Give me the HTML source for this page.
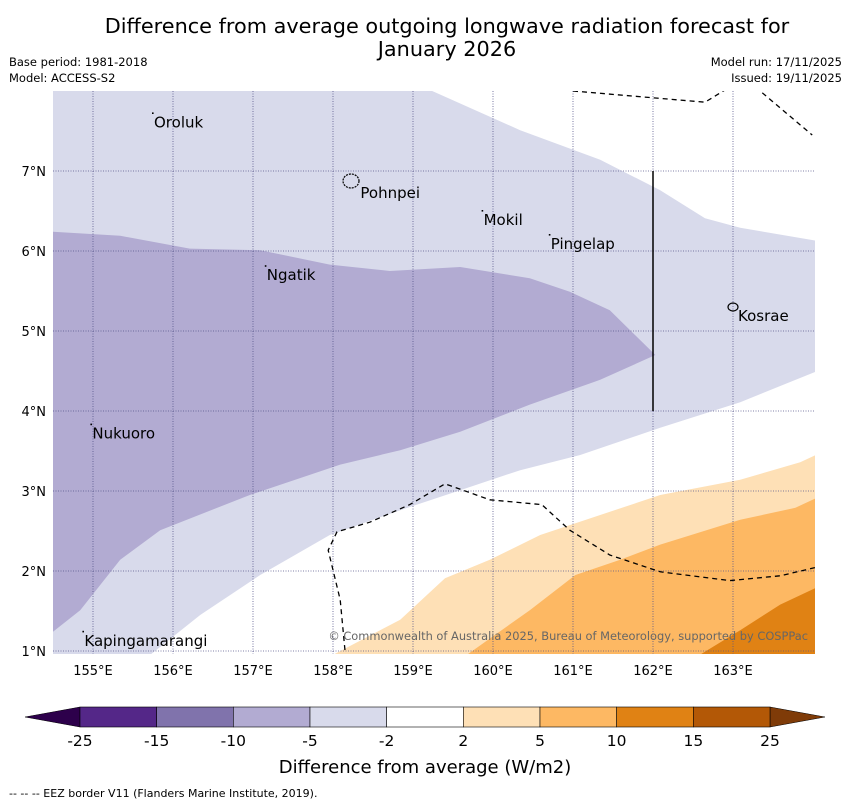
<!DOCTYPE html>
<html><head><meta charset="utf-8"><style>
body{margin:0;background:#fff;font-family:"Liberation Sans","DejaVu Sans",sans-serif}
svg text{font-family:"DejaVu Sans","Liberation Sans",sans-serif}
</style></head><body>
<svg id="c" width="850" height="804" xmlns="http://www.w3.org/2000/svg">
<text x="447" y="33" font-size="20.8" text-anchor="middle">Difference from average outgoing longwave radiation forecast for</text>
<text x="447" y="56" font-size="20.8" text-anchor="middle">January 2026</text>
<text x="9" y="66" font-size="11.5">Base period: 1981-2018</text>
<text x="9" y="82" font-size="11.5">Model: ACCESS-S2</text>
<text x="842" y="66" font-size="11.5" text-anchor="end">Model run: 17/11/2025</text>
<text x="842" y="82" font-size="11.5" text-anchor="end">Issued: 19/11/2025</text>
<defs><clipPath id="mc"><rect x="53" y="91" width="762" height="563"/></clipPath></defs>
<g id="map" clip-path="url(#mc)"></g>
<g id="over"></g>
<g id="cb"></g>
<text x="425" y="773" font-size="18" text-anchor="middle">Difference from average (W/m2)</text>
<text x="9" y="797" font-size="11">--  --  -- EEZ border V11 (Flanders Marine Institute, 2019).</text>
</svg>
<script>
const lonTicks=[155,156,157,158,159,160,161,162,163];
const latTicks=[1,2,3,4,5,6,7];
const regionLight=[[154.5,8],[159.24,8],[160.34,7.51],[161.34,7.14],[162.09,6.76],[162.65,6.41],[163.09,6.29],[164.03,6.13],[164.03,4.49],[163.09,4.11],[162.09,3.79],[161.09,3.45],[160.34,3.26],[159.59,3.01],[158.84,2.76],[157.96,2.45],[157.09,1.95],[156.34,1.45],[155.65,0.9],[154.5,0.9]];
const regionMed=[[154.5,6.24],[155.34,6.19],[156.21,6.03],[157.09,6.01],[157.96,5.83],[158.71,5.75],[159.59,5.8],[160.46,5.66],[160.96,5.49],[161.46,5.26],[162.03,4.7],[161.34,4.39],[160.46,4.08],[159.59,3.74],[158.84,3.51],[158.09,3.33],[156.96,2.95],[155.84,2.51],[155.34,2.14],[154.84,1.51],[154.5,1.24]];
const regionOr1=[[157.9,0.9],[158.84,1.39],[159.4,1.91],[159.96,2.14],[160.59,2.45],[161.34,2.7],[162.09,2.95],[163.09,3.14],[163.84,3.36],[164.1,3.48],[164.1,0.9]];
const regionOr2=[[159.6,0.9],[160.46,1.51],[161.03,1.95],[161.59,2.14],[162.09,2.33],[163.09,2.64],[163.78,2.79],[164.1,2.94],[164.1,0.9]];
const regionOr3=[[162.5,0.9],[163.09,1.26],[163.59,1.58],[164.1,1.82],[164.1,0.9]];
const eezA=[[158.16,0.9],[158.09,1.64],[157.94,2.26],[158.05,2.49],[158.46,2.61],[158.96,2.83],[159.4,3.09],[159.96,2.89],[160.61,2.83],[160.96,2.51],[161.46,2.2],[162.09,1.99],[162.96,1.88],[163.59,1.94],[164.1,2.06]];
const eezB=[[161,8],[162.65,7.86],[162.96,8.05]];
const eezC=[[163.28,8.05],[163.99,7.45]];
const places=["Oroluk","Pohnpei","Mokil","Pingelap","Ngatik","Kosrae","Nukuoro","Kapingamarangi"];
const placeLon=[155.75,158.33,159.87,160.71,157.16,163.05,154.98,154.88];
const placeLat=[7.72,6.84,6.5,6.2,5.81,5.3,3.83,1.24];
const cbBounds=["-25","-15","-10","-5","-2","2","5","10","15","25"];
const cbColors=["#542788","#8073ac","#b2abd2","#d8daeb","#ffffff","#fee0b6","#fdb863","#e08214","#b35806"];
const X=lon=>53+(lon-154.5)*80, Y=lat=>91+(8-lat)*80;
const NS="http://www.w3.org/2000/svg";
function mk(t,a,p){const e=document.createElementNS(NS,t);for(const k in a)e.setAttribute(k,a[k]);p.appendChild(e);return e;}
const map=document.getElementById('map'),over=document.getElementById('over'),cb=document.getElementById('cb');
const pts=a=>a.map(p=>X(p[0]).toFixed(1)+','+Y(p[1]).toFixed(1)).join(' ');
const regs=[[regionLight,"#d8daeb","region-minus5-minus2"],[regionMed,"#b2abd2","region-minus10-minus5"],[regionOr1,"#fee0b6","region-2-5"],[regionOr2,"#fdb863","region-5-10"],[regionOr3,"#e08214","region-10-15"]];
regs.forEach(r=>{const e=mk('polygon',{points:pts(r[0]),fill:r[1]},map);

});
lonTicks.forEach(l=>{const e=mk('line',{x1:X(l),x2:X(l),y1:91,y2:654,stroke:"#55558a","stroke-width":0.8,"stroke-dasharray":"1,1.5"},map);


const t=mk('text',{x:X(l),y:675,"font-size":13,"text-anchor":"middle"},over);t.textContent=l+"°E";

});
latTicks.forEach(l=>{const e=mk('line',{x1:53,x2:815,y1:Y(l),y2:Y(l),stroke:"#55558a","stroke-width":0.8,"stroke-dasharray":"1,1.5"},map);


const t=mk('text',{x:46,y:Y(l)+5,"font-size":13,"text-anchor":"end"},over);t.textContent=l+"°N";

});
[eezA,eezB,eezC].forEach(a=>{const e=mk('polyline',{points:pts(a),fill:"none",stroke:"#000","stroke-width":1.3,"stroke-dasharray":"5,4"},map);

});
const vl=mk('line',{x1:X(162),x2:X(162),y1:Y(7),y2:Y(4),stroke:"#000","stroke-width":1.5},map);


const ph=mk('ellipse',{cx:351,cy:181,rx:8,ry:7,fill:"none",stroke:"#000","stroke-width":1.2,"stroke-dasharray":"2,1"},map);


const ks=mk('ellipse',{cx:733,cy:307,rx:5,ry:4,fill:"none",stroke:"#000","stroke-width":1.2},map);


places.forEach((p,i)=>{const x=X(placeLon[i]),y=Y(placeLat[i]);
if(i!==1&&i!==5){const d=mk('rect',{x:x-1,y:y-1,width:1.6,height:1.6,fill:"#000"},map);

}
const t=mk('text',{x:x+1,y:y+14,"font-size":15},map);t.textContent=p;

});
const cp=mk('text',{x:808,y:640,"font-size":11.4,"text-anchor":"end",fill:"#666"},map);
cp.textContent="© Commonwealth of Australia 2025, Bureau of Meteorology, supported by COSPPac";


const cbx0=80,cbx1=770,n=cbColors.length,w=(cbx1-cbx0)/n;
const lt=mk('polygon',{points:`${cbx0},707 ${cbx0},727 25,717`,fill:"#2d004b",stroke:"#000","stroke-width":0.5},cb);


const rt=mk('polygon',{points:`${cbx1},707 ${cbx1},727 825,717`,fill:"#7f3b08",stroke:"#000","stroke-width":0.5},cb);


cbColors.forEach((c,i)=>{const r=mk('rect',{x:cbx0+i*w,y:707,width:w,height:20,fill:c,stroke:"#000","stroke-width":0.6},cb);

});
cbBounds.forEach((b,i)=>{const t=mk('text',{x:cbx0+i*w,y:746,"font-size":15.5,"text-anchor":"middle"},cb);t.textContent=b;

});
</script>
</body></html>
